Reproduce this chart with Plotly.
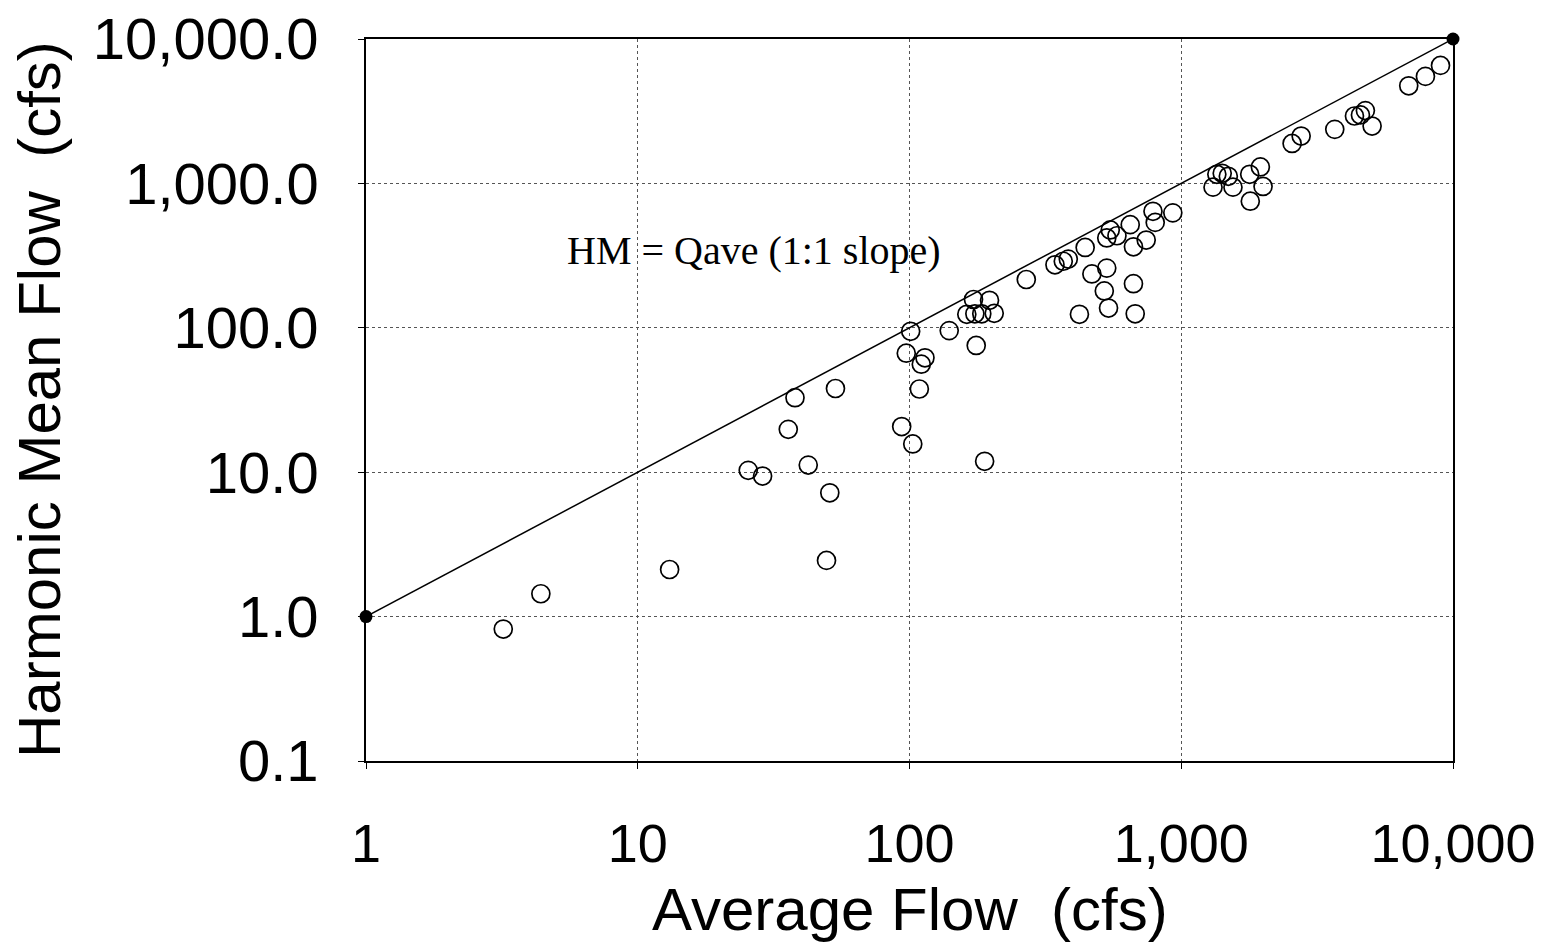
import math
import plotly.graph_objects as go

# Average flow (cfs) vs harmonic mean flow (cfs)
avg_flow = [3.2, 4.4, 13.1, 25.5, 28.8, 35.8, 37.9, 42.4, 49.5, 50.9, 53.4,
            93.6, 102.8, 108.7, 101, 97.3, 114, 110.5, 140, 176, 189,
            172, 197, 162.5, 174, 184.5, 205,
            269, 343, 368, 384, 443, 469, 532, 521, 540, 422, 677, 667,
            532, 548, 580, 649, 743, 667, 787, 802, 931,
            1352, 1415, 1490, 1309, 1550, 1786, 1955, 2000, 1795,
            2558, 2762, 3672, 4339, 4565, 4760, 5039, 6873, 7917, 8995]
hm_flow = [0.82, 1.44, 2.12, 10.3, 9.4, 19.8, 32.8, 11.2, 2.45, 7.2, 38.0,
           20.7, 15.7, 37.7, 94.6, 66.7, 62, 56, 95.6, 75.5, 11.9,
           157, 155, 124, 125, 125, 126,
           216, 273, 289, 299, 360, 236, 259, 180, 137, 124, 125, 202,
           419, 476, 434, 518, 405, 364, 641, 537, 625,
           1156, 1175, 1120, 942, 942, 1156, 1300, 953, 753,
           1892, 2127, 2367, 2930, 2979, 3192, 2496, 4742, 5510, 6565]

line_x = [1, 10000]
line_y = [1, 10000]

x_ticks = [1, 10, 100, 1000, 10000]
x_ticklabels = ["1", "10", "100", "1,000", "10,000"]
y_ticks = [0.1, 1, 10, 100, 1000, 10000]
y_ticklabels = ["0.1", "1.0", "10.0", "100.0", "1,000.0", "10,000.0"]

annotation_text = "HM = Qave (1:1 slope)"
annotation_pos = (26.7, 341)

x_title = "Average Flow  (cfs)"
y_title = "Harmonic Mean Flow  (cfs)"

fig = go.Figure()
fig.add_trace(go.Scatter(
    x=line_x, y=line_y, mode="lines+markers",
    line=dict(color="black", width=1.5),
    marker=dict(symbol="circle", size=13, color="black"),
    cliponaxis=False, showlegend=False, hoverinfo="skip"))
fig.add_trace(go.Scatter(
    x=avg_flow, y=hm_flow, mode="markers",
    marker=dict(symbol="circle-open", size=18, color="black",
                line=dict(width=1.7, color="black")),
    cliponaxis=False, showlegend=False))

# annotation on log axes uses log10 coordinates
fig.add_annotation(x=math.log10(annotation_pos[0]), y=math.log10(annotation_pos[1]),
                   xref="x", yref="y", text=annotation_text, showarrow=False,
                   font=dict(family="Liberation Serif", size=40, color="black"))

title_font = dict(family="Liberation Sans, Arial", size=60, color="black")
fig.add_annotation(x=0.5, y=0, xref="paper", yref="paper", yshift=-113,
                   text=x_title, showarrow=False, yanchor="top", font=title_font)
fig.add_annotation(x=0, y=0.5, xref="paper", yref="paper", xshift=-327,
                   text=y_title, showarrow=False, textangle=-90, xanchor="center",
                   font=title_font)

axis_common = dict(
    type="log", showgrid=True, gridcolor="#555", griddash="dot", gridwidth=1,
    showline=True, linecolor="black", linewidth=1.5, mirror=True,
    ticks="outside", ticklen=6, tickcolor="black", zeroline=False,
    automargin=False, ticklabeloverflow="allow",
)

fig.update_xaxes(**axis_common, range=[0, 4], tickvals=x_ticks, ticktext=x_ticklabels,
                 ticklabelstandoff=28,
                 tickfont=dict(family="Liberation Sans, Arial", size=54, color="black"))
fig.update_yaxes(**axis_common, range=[-1, 4], tickvals=y_ticks, ticktext=y_ticklabels,
                 ticklabelstandoff=28,
                 tickfont=dict(family="Liberation Sans, Arial", size=58, color="black"))

fig.update_layout(
    width=1546, height=942,
    margin=dict(l=358, r=101, t=31, b=189, autoexpand=False),
    paper_bgcolor="white", plot_bgcolor="white",
)

fig.write_html("out.html")
